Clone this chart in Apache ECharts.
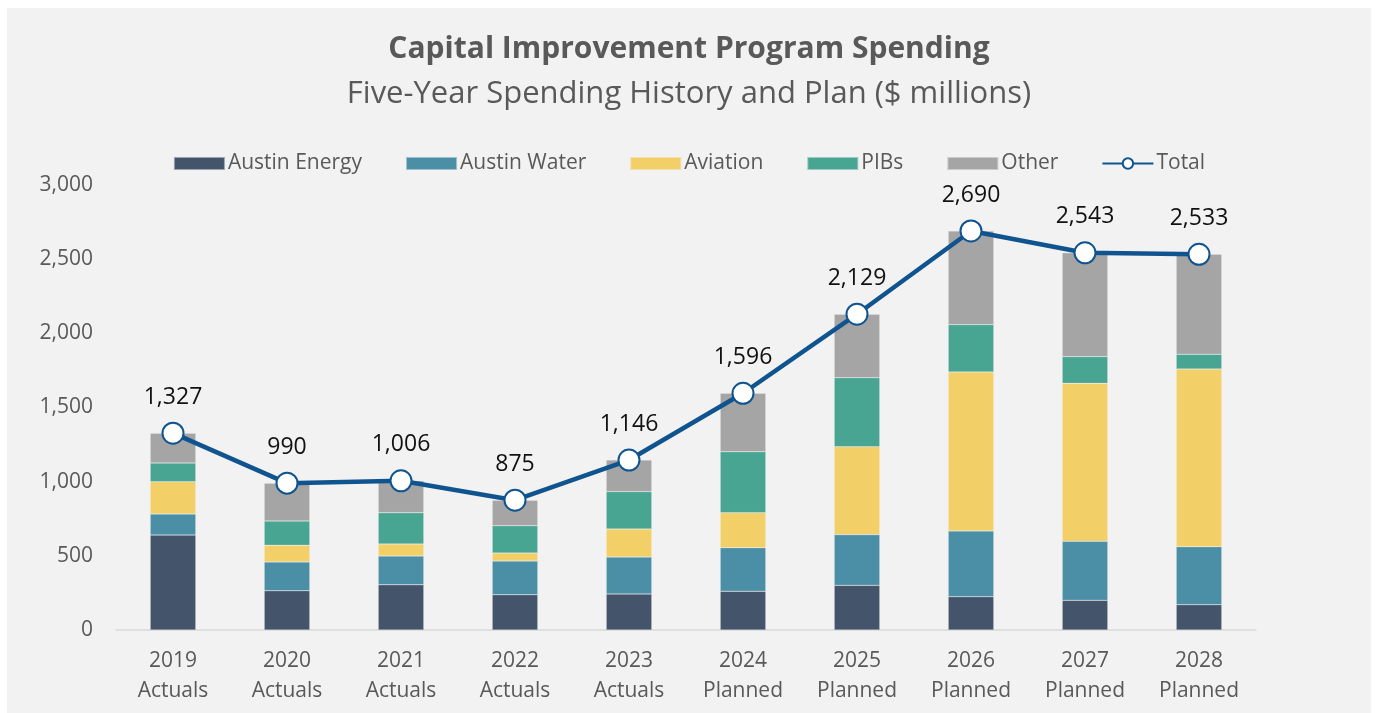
<!DOCTYPE html>
<html>
<head>
<meta charset="utf-8">
<script src="https://cdn.jsdelivr.net/npm/echarts@6/dist/echarts.min.js"></script>
<style>
html,body{margin:0;padding:0;background:#ffffff;width:1377px;height:713px;overflow:hidden;}
#chart{position:absolute;left:7px;top:8px;width:1364px;height:705px;background:#f2f2f2;}
</style>
</head>
<body>
<div id="chart"></div>
<script>
const categories = ['2019\nActuals','2020\nActuals','2021\nActuals','2022\nActuals','2023\nActuals','2024\nPlanned','2025\nPlanned','2026\nPlanned','2027\nPlanned','2028\nPlanned'];
const austinEnergy = [640, 265, 305, 238, 243, 261, 301, 225, 200, 171];
const austinWater  = [142, 194, 194, 227, 249, 294, 342, 443, 398, 391];
const aviation     = [218, 112, 81, 54, 189, 236, 593, 1072, 1065, 1198];
const pibs         = [126, 164, 211, 184, 252, 411, 465, 319, 180, 99];
const other        = [201, 255, 215, 172, 213, 394, 428, 631, 700, 674];
const total        = [1327, 990, 1006, 875, 1146, 1596, 2129, 2690, 2543, 2533];
const yTicks = {min: 0, max: 3000, interval: 500};

const FONT = '"Open Sans", "Noto Sans", sans-serif';
const TXT = '#595959';
const fmt = v => Number(v).toLocaleString('en-US');

function barSeries(name, data, color) {
  return {
    name: name, type: 'bar', stack: 'cip', data: data,
    barWidth: '40%',
    itemStyle: {color: color, borderColor: 'rgba(242,242,242,0.5)', borderWidth: 0.5},
    emphasis: {disabled: true}
  };
}

const chart = echarts.init(document.getElementById('chart'), null, {renderer: 'canvas'});
chart.setOption({
  backgroundColor: '#f2f2f2',
  animation: false,
  title: [
    {text: 'Capital Improvement Program Spending', left: 'center', top: 21,
     textStyle: {fontFamily: FONT, fontSize: 30, fontWeight: 'bold', color: TXT}},
    {text: 'Five-Year Spending History and Plan ($ millions)', left: 'center', top: 66,
     textStyle: {fontFamily: FONT, fontSize: 31, fontWeight: 'normal', color: TXT}}
  ],
  legend: {
    top: 140, left: 'center',
    itemWidth: 51, itemHeight: 13, itemGap: 43,
    textStyle: {fontFamily: FONT, fontSize: 21, color: TXT, padding: [0,0,0,-2]},
    data: [
      {name: 'Austin Energy', icon: 'rect'},
      {name: 'Austin Water', icon: 'rect'},
      {name: 'Aviation', icon: 'rect'},
      {name: 'PIBs', icon: 'rect'},
      {name: 'Other', icon: 'rect'},
      'Total']
  },
  grid: {left: 109, right: 115, top: 177, bottom: 83, containLabel: false},
  xAxis: {
    type: 'category', data: categories,
    axisLine: {lineStyle: {color: '#d9d9d9', width: 1.5}},
    axisTick: {show: false},
    axisLabel: {fontFamily: FONT, fontSize: 21, color: TXT, lineHeight: 30, margin: 16}
  },
  yAxis: {
    type: 'value', min: yTicks.min, max: yTicks.max, interval: yTicks.interval,
    splitLine: {show: false},
    axisLine: {show: false}, axisTick: {show: false},
    axisLabel: {fontFamily: FONT, fontSize: 21, color: TXT, margin: 23, formatter: v => fmt(v)}
  },
  series: [
    barSeries('Austin Energy', austinEnergy, '#44546a'),
    barSeries('Austin Water', austinWater, '#4a8fa6'),
    barSeries('Aviation', aviation, '#f3cf68'),
    barSeries('PIBs', pibs, '#47a591'),
    barSeries('Other', other, '#a5a5a5'),
    {
      name: 'Total', type: 'line', data: total,
      symbol: 'circle', symbolSize: 21,
      lineStyle: {color: '#10548f', width: 4.5},
      itemStyle: {color: '#ffffff', borderColor: '#10548f', borderWidth: 2},
      label: {show: true, position: 'top', distance: 13, fontFamily: FONT, fontSize: 23, color: '#111',
        formatter: p => fmt(p.value)},
      z: 5,
      emphasis: {disabled: true}
    }
  ]
});
</script>
</body>
</html>
